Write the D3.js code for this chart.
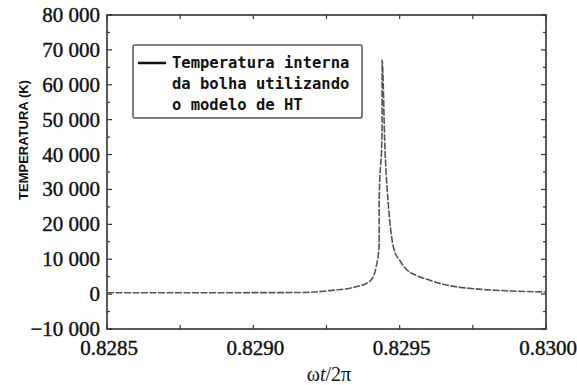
<!DOCTYPE html>
<html>
<head>
<meta charset="utf-8">
<script src="https://cdn.jsdelivr.net/npm/d3@7"></script>
<style>
  body { margin: 0; background: #fff; }
  svg { display: block; }
</style>
</head>
<body>
<div id="chart"></div>
<script>
// values (x = ωt/2π, y = temperature in K)
const phase = [0.8285, 0.82882, 0.82916, 0.82919, 0.82926, 0.82933, 0.82936, 0.82939,
  0.82941, 0.82942, 0.82943, 0.82943, 0.82944, 0.82944, 0.82945, 0.82946, 0.82947,
  0.82948, 0.8295, 0.829525, 0.82955, 0.82959, 0.82966, 0.82977, 0.82988, 0.8300];
const temperature = [400, 400, 450, 500, 1000, 1700, 2300, 3200,
  5000, 8000, 14000, 27000, 47000, 67000, 41000, 27000, 18000,
  13000, 9700, 6900, 5600, 4300, 2600, 1430, 900, 600];

const yTicks = [-10000, 0, 10000, 20000, 30000, 40000, 50000, 60000, 70000, 80000];
const xTicks = [0.8285, 0.8290, 0.8295, 0.8300];
const legendLines = ['Temperatura interna', 'da bolha utilizando', 'o modelo de HT'];

const width = 577, height = 385;
const margin = { top: 15, right: 31, bottom: 56, left: 107 };

const svg = d3.select('#chart').append('svg')
    .attr('width', width)
    .attr('height', height);

const x = d3.scaleLinear().domain([0.8285, 0.8300]).range([margin.left, width - margin.right]);
const y = d3.scaleLinear().domain([-10000, 80000]).range([height - margin.bottom, margin.top]);

const fmt = v => (v < 0 ? '\u221210 000' : d3.format(',')(v).replace(/,/g, ' '));

// minor / major ticks, pointing inwards on all four sides
const frame = svg.append('g').attr('stroke', '#333').attr('stroke-width', 1.2);
d3.range(-10000, 80001, 5000).forEach(v => {
    const len = v % 10000 === 0 ? 5 : 3;
    frame.append('line').attr('x1', x.range()[0]).attr('x2', x.range()[0] + len)
        .attr('y1', y(v)).attr('y2', y(v));
    frame.append('line').attr('x1', x.range()[1]).attr('x2', x.range()[1] - len)
        .attr('y1', y(v)).attr('y2', y(v));
});
d3.range(0, 7).map(i => 0.8285 + i * 0.00025).forEach(v => {
    frame.append('line').attr('x1', x(v)).attr('x2', x(v))
        .attr('y1', y.range()[0]).attr('y2', y.range()[0] - 4);
    frame.append('line').attr('x1', x(v)).attr('x2', x(v))
        .attr('y1', y.range()[1]).attr('y2', y.range()[1] + 4);
});

svg.append('rect')
    .attr('x', x.range()[0]).attr('y', y.range()[1])
    .attr('width', x.range()[1] - x.range()[0])
    .attr('height', y.range()[0] - y.range()[1])
    .attr('fill', 'none').attr('stroke', '#333').attr('stroke-width', 1.6);

// tick labels
svg.append('g').selectAll('text').data(yTicks).join('text')
    .attr('x', x.range()[0] - 7)
    .attr('y', d => y(d) + 7)
    .attr('text-anchor', 'end')
    .style('font-family', '"Liberation Serif", serif')
    .style('font-size', '21px')
    .attr('fill', '#111').attr('stroke', '#111').attr('stroke-width', 0.4)
    .text(fmt);

svg.append('g').selectAll('text').data(xTicks).join('text')
    .attr('x', d => x(d) + 2)
    .attr('y', 355)
    .attr('text-anchor', 'middle')
    .style('font-family', '"Liberation Serif", serif')
    .style('font-size', '21px')
    .attr('fill', '#111').attr('stroke', '#111').attr('stroke-width', 0.4)
    .text(d => d.toFixed(4));

// axis titles
const xt = svg.append('text')
    .attr('x', 329).attr('y', 381)
    .attr('text-anchor', 'middle')
    .style('font-family', '"Liberation Serif", serif')
    .style('font-size', '20px')
    .attr('fill', '#111');
xt.append('tspan').text('\u03c9');
xt.append('tspan').style('font-style', 'italic').text('t');
xt.append('tspan').text('/2\u03c0');

svg.append('text')
    .attr('transform', 'translate(28,140) rotate(-90)')
    .attr('text-anchor', 'middle')
    .style('font-family', '"Liberation Sans", Arial, sans-serif')
    .style('font-size', '13px')
    .style('font-weight', 'bold')
    .attr('fill', '#111')
    .text('TEMPERATURA (K)');

// curve
const line = d3.line().x((d, i) => x(phase[i])).y(d => y(d)).curve(d3.curveMonotoneX);
svg.append('path')
    .datum(temperature)
    .attr('d', line)
    .attr('fill', 'none')
    .attr('stroke', '#555')
    .attr('stroke-width', 1.6)
    .attr('stroke-dasharray', '7,1.5');

// legend
const lg = svg.append('g');
lg.append('rect')
    .attr('x', 133).attr('y', 45).attr('width', 229).attr('height', 73)
    .attr('rx', 2)
    .attr('fill', '#fff').attr('stroke', '#555').attr('stroke-width', 1.5);
lg.append('line')
    .attr('x1', 138).attr('x2', 166).attr('y1', 63).attr('y2', 63)
    .attr('stroke', '#111').attr('stroke-width', 2.5);
lg.selectAll('text.leg').data(legendLines).join('text')
    .attr('class', 'leg')
    .attr('x', 172)
    .attr('y', (d, i) => 68 + i * 21)
    .style('font-family', '"DejaVu Sans Mono", monospace')
    .style('font-size', '15.5px')
    .style('font-weight', 'bold')
    .attr('fill', '#111')
    .text(d => d);
</script>
</body>
</html>
